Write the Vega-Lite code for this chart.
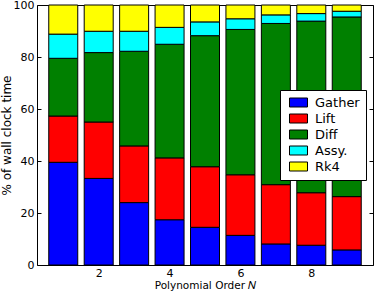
{
  "$schema": "https://vega.github.io/schema/vega-lite/v6.json",
  "width": 336,
  "height": 260,
  "autosize": {"type": "none"},
  "padding": {"left": 37, "top": 5, "right": 1, "bottom": 28},
  "config": {
    "font": "DejaVu Sans",
    "view": {"stroke": "#000000", "strokeWidth": 1},
    "axis": {"grid": false, "domain": false, "tickColor": "#000000", "tickSize": -4, "labelPadding": 7, "labelColor": "#000000", "titleColor": "#000000", "titleFontWeight": "normal", "labelFontSize": 11}
  },
  "data": {
    "values": [
      {"N": 1, "part": "Gather", "pct": 39.5}, {"N": 1, "part": "Lift", "pct": 17.8}, {"N": 1, "part": "Diff", "pct": 22.2}, {"N": 1, "part": "Assy.", "pct": 9.3}, {"N": 1, "part": "Rk4", "pct": 11.2},
      {"N": 2, "part": "Gather", "pct": 33.3}, {"N": 2, "part": "Lift", "pct": 21.7}, {"N": 2, "part": "Diff", "pct": 26.7}, {"N": 2, "part": "Assy.", "pct": 8.2}, {"N": 2, "part": "Rk4", "pct": 10.1},
      {"N": 3, "part": "Gather", "pct": 24.0}, {"N": 3, "part": "Lift", "pct": 21.8}, {"N": 3, "part": "Diff", "pct": 36.4}, {"N": 3, "part": "Assy.", "pct": 7.7}, {"N": 3, "part": "Rk4", "pct": 10.1},
      {"N": 4, "part": "Gather", "pct": 17.4}, {"N": 4, "part": "Lift", "pct": 23.8}, {"N": 4, "part": "Diff", "pct": 43.7}, {"N": 4, "part": "Assy.", "pct": 6.5}, {"N": 4, "part": "Rk4", "pct": 8.6},
      {"N": 5, "part": "Gather", "pct": 14.5}, {"N": 5, "part": "Lift", "pct": 23.3}, {"N": 5, "part": "Diff", "pct": 50.4}, {"N": 5, "part": "Assy.", "pct": 5.3}, {"N": 5, "part": "Rk4", "pct": 6.5},
      {"N": 6, "part": "Gather", "pct": 11.4}, {"N": 6, "part": "Lift", "pct": 23.3}, {"N": 6, "part": "Diff", "pct": 55.9}, {"N": 6, "part": "Assy.", "pct": 4.1}, {"N": 6, "part": "Rk4", "pct": 5.3},
      {"N": 7, "part": "Gather", "pct": 8.1}, {"N": 7, "part": "Lift", "pct": 22.8}, {"N": 7, "part": "Diff", "pct": 62.0}, {"N": 7, "part": "Assy.", "pct": 3.3}, {"N": 7, "part": "Rk4", "pct": 3.8},
      {"N": 8, "part": "Gather", "pct": 7.6}, {"N": 8, "part": "Lift", "pct": 20.2}, {"N": 8, "part": "Diff", "pct": 66.0}, {"N": 8, "part": "Assy.", "pct": 2.9}, {"N": 8, "part": "Rk4", "pct": 3.3},
      {"N": 9, "part": "Gather", "pct": 5.8}, {"N": 9, "part": "Lift", "pct": 20.5}, {"N": 9, "part": "Diff", "pct": 69.1}, {"N": 9, "part": "Assy.", "pct": 2.2}, {"N": 9, "part": "Rk4", "pct": 2.4}
    ]
  },
  "transform": [
    {"calculate": "indexof(['Gather','Lift','Diff','Assy.','Rk4'], datum.part)", "as": "k"}
  ],
  "resolve": {"axis": {"x": "independent", "y": "independent"}},
  "layer": [
    {
      "mark": {"type": "bar", "width": 29, "stroke": "#000000", "strokeWidth": 1},
      "encoding": {
        "x": {"field": "N", "type": "quantitative", "scale": {"domain": [0.4, 9.6], "nice": false, "zero": false},
              "axis": {"values": [2, 4, 6, 8], "format": "d", "labelPadding": 6, "title": "Polynomial Order 𝑁", "titleFontSize": 10.5, "titlePadding": 2}},
        "y": {"field": "pct", "type": "quantitative", "stack": "zero", "scale": {"domain": [0, 100], "nice": false},
              "axis": {"values": [0, 20, 40, 60, 80, 100], "title": "% of wall clock time", "titleFontSize": 12, "titlePadding": 0}},
        "order": {"field": "k", "type": "quantitative", "sort": "ascending"},
        "color": {"field": "part", "type": "nominal",
                  "sort": ["Gather", "Lift", "Diff", "Assy.", "Rk4"],
                  "scale": {"domain": ["Gather", "Lift", "Diff", "Assy.", "Rk4"], "range": ["#0000ff", "#ff0000", "#008000", "#00ffff", "#ffff00"]},
                  "legend": {"orient": "none", "legendX": 243, "legendY": 85, "title": null,
                             "symbolType": "M-2,-1H2V1H-2Z", "symbolSize": 81, "symbolStrokeColor": "#000000", "symbolStrokeWidth": 1,
                             "symbolOffset": 6, "labelOffset": 10, "labelFontSize": 13, "labelColor": "#000000",
                             "rowPadding": 2, "padding": 6, "strokeColor": "#000000", "fillColor": "#ffffff", "cornerRadius": 0}}
      }
    },
    {
      "mark": {"type": "bar", "width": 29, "opacity": 0},
      "encoding": {
        "x": {"field": "N", "type": "quantitative", "axis": {"orient": "top", "values": [2, 4, 6, 8], "labels": false, "title": null}},
        "y": {"field": "pct", "type": "quantitative", "stack": null, "axis": {"orient": "right", "values": [0, 20, 40, 60, 80, 100], "labels": false, "title": null}}
      }
    }
  ]
}
